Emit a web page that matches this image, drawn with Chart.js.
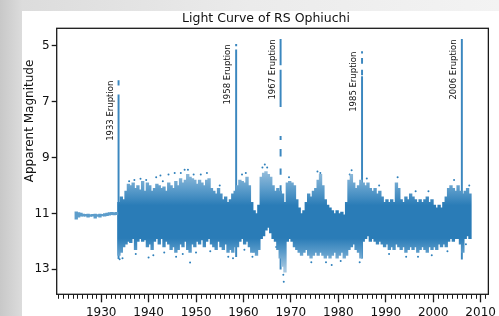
<!DOCTYPE html>
<html>
<head>
<meta charset="utf-8">
<script src="https://cdn.jsdelivr.net/npm/chart.js@4.4.1/dist/chart.umd.min.js"></script>
<style>
  html, body { margin: 0; padding: 0; }
  body {
    width: 499px; height: 316px; overflow: hidden; position: relative;
    background: linear-gradient(90deg, #c8c8c8 0px, #dcdcdc 22px, #ebebeb 250px, #f3f3f3 499px);
  }
  #sheet { position: absolute; left: 22px; top: 11px; width: 477px; height: 305px; background: #fff; }
  #lc { display: block; }
</style>
</head>
<body>
<div id="sheet"><canvas id="lc" width="477" height="305"></canvas></div>
<script>
// ------------------------------------------------------------
// Light curve of RS Ophiuchi
// ------------------------------------------------------------

const xTicks = [1930, 1940, 1950, 1960, 1970, 1980, 1990, 2000, 2010];
const yTicks = [5, 7, 9, 11, 13];

// quiet stretch before the 1933 outburst (half-year bins)
const quietYears  = [1924.75, 1925.25, 1925.75, 1926.25, 1926.75, 1927.25, 1927.75, 1928.25, 1928.75,
                     1929.25, 1929.75, 1930.25, 1930.75, 1931.25, 1931.75, 1932.25, 1932.75, 1933.25];
const quietBright = [10.94, 10.97, 10.99, 11.02, 11.03, 11.02, 11.04, 11.03, 11.02,
                     11.04, 11.02, 11.03, 11.0, 10.99, 10.97, 10.96, 10.97, 10.96];
const quietFaint  = [11.2, 11.13, 11.1, 11.1, 11.1, 11.13, 11.11, 11.1, 11.17,
                     11.11, 11.13, 11.09, 11.1, 11.08, 11.06, 11.04, 11.05, 11.04];

// spread of the observations after 1933 (half-year bins)
const bandYears = [
  1933.75, 1934.25, 1934.75, 1935.25, 1935.75, 1936.25, 1936.75, 1937.25, 1937.75, 1938.25,
  1938.75, 1939.25, 1939.75, 1940.25, 1940.75, 1941.25, 1941.75, 1942.25, 1942.75, 1943.25,
  1943.75, 1944.25, 1944.75, 1945.25, 1945.75, 1946.25, 1946.75, 1947.25, 1947.75, 1948.25,
  1948.75, 1949.25, 1949.75, 1950.25, 1950.75, 1951.25, 1951.75, 1952.25, 1952.75, 1953.25,
  1953.75, 1954.25, 1954.75, 1955.25, 1955.75, 1956.25, 1956.75, 1957.25, 1957.75, 1958.25,
  1958.75, 1959.25, 1959.75, 1960.25, 1960.75, 1961.25, 1961.75, 1962.25, 1962.75, 1963.25,
  1963.75, 1964.25, 1964.75, 1965.25, 1965.75, 1966.25, 1966.75, 1967.25, 1967.75, 1968.25,
  1968.75, 1969.25, 1969.75, 1970.25, 1970.75, 1971.25, 1971.75, 1972.25, 1972.75, 1973.25,
  1973.75, 1974.25, 1974.75, 1975.25, 1975.75, 1976.25, 1976.75, 1977.25, 1977.75, 1978.25,
  1978.75, 1979.25, 1979.75, 1980.25, 1980.75, 1981.25, 1981.75, 1982.25, 1982.75, 1983.25,
  1983.75, 1984.25, 1984.75, 1985.25, 1985.75, 1986.25, 1986.75, 1987.25, 1987.75, 1988.25,
  1988.75, 1989.25, 1989.75, 1990.25, 1990.75, 1991.25, 1991.75, 1992.25, 1992.75, 1993.25,
  1993.75, 1994.25, 1994.75, 1995.25, 1995.75, 1996.25, 1996.75, 1997.25, 1997.75, 1998.25,
  1998.75, 1999.25, 1999.75, 2000.25, 2000.75, 2001.25, 2001.75, 2002.25, 2002.75, 2003.25,
  2003.75, 2004.25, 2004.75, 2005.25, 2005.75, 2006.25, 2006.75, 2007.25, 2007.75
];
const bandBright = [
  10.6, 10.4, 10.5, 10.2, 9.95, 10.0, 9.9, 10.1, 10.0, 10.15,
  9.85, 10.2, 9.9, 10.0, 10.2, 10.1, 9.95, 10.0, 10.1, 10.05,
  10.2, 9.9, 10.0, 10.1, 9.85, 10.0, 9.75, 9.9, 9.8, 9.6,
  9.7, 9.75, 9.8, 9.95, 9.8, 9.9, 10.0, 9.8, 9.75, 10.1,
  10.2, 10.3, 10.1, 10.3, 10.5, 10.4, 10.6, 10.5, 10.3, 10.2,
  10.0, 9.8, 9.85, 9.9, 9.7, 10.0, 10.6, 10.9, 11.0, 10.7,
  9.7, 9.55, 9.5, 9.6, 9.7, 10.0, 10.2, 10.1, 10.2, 10.3,
  10.6, 9.9, 9.85, 9.9, 10.0, 10.5, 10.8, 11.0, 10.9, 10.6,
  10.3, 10.4, 10.2, 10.1, 9.8, 9.6, 10.0, 10.5, 10.7, 10.8,
  10.9, 11.0, 10.9, 11.0, 10.95, 11.05, 10.6, 9.8, 9.6, 9.9,
  10.1, 10.0, 9.8, 9.9, 10.0, 9.9, 10.1, 10.2, 10.1, 10.3,
  10.2, 10.4, 10.6, 10.5, 10.6, 10.5, 10.6, 9.9, 10.1, 10.5,
  10.6, 10.4, 10.5, 10.3, 10.4, 10.5, 10.6, 10.5, 10.6, 10.5,
  10.4, 10.6, 10.5, 10.7, 10.8, 10.7, 10.8, 10.6, 10.4, 10.1,
  10.0, 10.1, 10.2, 10.0, 10.2, 10.3, 10.2, 10.1, 10.3
];
const bandFaint = [
  12.5, 12.4, 12.2, 12.1, 12.0, 12.05, 11.9, 12.3, 12.0, 11.9,
  12.0, 11.95, 12.2, 12.1, 12.3, 12.0, 11.9, 12.1, 11.9, 12.2,
  12.0, 12.1, 12.3, 12.2, 12.4, 12.3, 12.1, 12.2, 12.0, 12.3,
  12.4, 12.1, 12.2, 12.0, 12.1, 11.95, 12.2, 12.0, 11.9, 12.1,
  12.2, 12.3, 12.0, 12.2, 12.3, 12.1, 12.4, 12.3, 12.4, 12.2,
  12.2, 12.0, 11.9, 12.1, 12.0, 12.2, 12.4, 12.4, 12.5, 12.3,
  11.9, 11.8, 11.6, 11.5, 11.7, 11.9, 12.0, 12.3, 12.6, 12.9,
  13.1, 12.0, 11.9, 12.0, 12.2, 12.3, 12.4, 12.5, 12.4, 12.3,
  12.5, 12.6, 12.5, 12.4, 12.5, 12.4, 12.5, 12.6, 12.5, 12.6,
  12.5, 12.4, 12.6, 12.5, 12.4, 12.6, 12.5, 12.3, 12.2, 12.1,
  12.3, 12.4, 12.6, 12.0, 11.9, 11.8, 12.0, 11.9, 12.0, 12.1,
  12.0, 12.1, 12.2, 12.1, 12.3, 12.2, 12.3, 12.1, 12.2, 12.3,
  12.2, 12.4, 12.3, 12.2, 12.3, 12.2, 12.4, 12.3, 12.2, 12.3,
  12.4, 12.2, 12.3, 12.2, 12.3, 12.1, 12.2, 12.1, 12.2, 12.0,
  11.9, 12.0, 11.9, 11.9, 12.1, 12.4, 11.9, 11.8, 11.9
];

// outbursts: near-vertical runs of points (gaps where the run breaks)
const burstYears  = [1933.67, 1933.67, 1958.46, 1958.46, 1967.83, 1967.83, 1967.83, 1967.83, 1967.83, 1967.83,
                     1985.0, 1985.0, 1985.0, 1985.0, 2006.04];
const burstTop    = [6.24, 6.75, 4.94, 5.14, 4.76, 5.86, 8.24, 8.7, 9.4, 10.0,
                     5.2, 5.44, 5.86, 6.1, 4.76];
const burstBottom = [6.4, 12.62, 5.0, 12.55, 5.68, 7.17, 8.36, 8.95, 9.6, 13.0,
                     5.26, 5.62, 6.04, 12.6, 12.64];

// isolated points sticking out of the main spread
const strayYears = [
  1933.9, 1938.3, 1940.0, 1942.5, 1944.2, 1945.5, 1947.6, 1948.3, 1948.75,
  1960.5, 1961.9, 1964.5, 1965.0, 1968.4, 1968.5, 1976.2, 1978.6, 1982.4,
  1935.9, 1937.0, 1939.5, 1941.6, 1943.0, 1946.8, 1949.5, 1951.0, 1952.3, 1955.0, 1959.7,
  1964.0, 1969.6, 1975.6, 1982.8, 1986.0, 1988.6, 1992.5, 1996.3, 1999.0, 2004.4, 2007.6,
  1934.5, 1937.3, 1941.0, 1943.3, 1945.8, 1947.2, 1950.0, 1953.0, 1956.8, 1957.8, 1960.2,
  1966.9, 1974.3, 1977.4, 1980.5, 1984.5, 1990.7, 1994.3, 1996.8, 1999.7, 2003.0, 2006.9
];
const strayMags = [
  12.64, 9.76, 12.58, 9.64, 9.6, 9.55, 9.43, 9.43, 12.76,
  9.55, 12.55, 9.25, 9.35, 13.2, 13.45, 9.55, 12.85, 9.6,
  9.85, 9.8, 9.8, 9.7, 9.85, 9.55, 9.6, 9.6, 9.55, 10.0, 9.6,
  9.35, 9.7, 9.5, 9.45, 9.75, 10.0, 9.7, 10.2, 10.2, 9.8, 10.0,
  12.6, 12.45, 12.5, 12.4, 12.55, 12.45, 12.4, 12.35, 12.55, 12.6, 12.3,
  12.2, 12.75, 12.75, 12.7, 12.75, 12.45, 12.55, 12.55, 12.5, 12.35, 12.1
];

const eruptionNames = ['1933 Eruption', '1958 Eruption', '1967 Eruption', '1985 Eruption', '2006 Eruption'];
const eruptionYears = [1933.67, 1958.46, 1967.83, 1985.0, 2006.04];
const eruptionPeaks = [6.24, 4.94, 4.76, 5.2, 4.76];

const DOT = '#2f80bb';
const INK = '#1a1a1a';
const FONT = "'DejaVu Sans', 'Liberation Sans', sans-serif";

Chart.defaults.font.family = FONT;

const toBars = (xs, lo, hi) => xs.map((x, i) => ({ x: x, y: [lo[i], hi[i]] }));

// the spread is dense in the middle and thins out towards its edges
let bandGradient = null;
function bandFill(context) {
  const chart = context.chart;
  if (!chart.chartArea) return DOT;
  if (bandGradient) return bandGradient;
  const y = chart.scales.y;
  const g = chart.ctx.createLinearGradient(0, y.getPixelForValue(9.3), 0, y.getPixelForValue(13.0));
  g.addColorStop(0.00, '#a6c7e0');
  g.addColorStop(0.22, '#5d9dcb');
  g.addColorStop(0.38, '#2a7cb7');
  g.addColorStop(0.70, '#2a7cb7');
  g.addColorStop(0.84, '#5d9dcb');
  g.addColorStop(1.00, '#a6c7e0');
  bandGradient = g;
  return g;
}

// frame, minor ticks, title, axis label and the outburst captions
const decor = {
  id: 'decor',
  afterDraw(chart) {
    const { ctx, chartArea: a, scales: { x, y } } = chart;
    ctx.save();

    ctx.strokeStyle = INK;
    ctx.lineWidth = 1.3;
    ctx.strokeRect(a.left, a.top, a.right - a.left, a.bottom - a.top);

    ctx.lineWidth = 1;
    ctx.beginPath();
    for (let yr = Math.ceil(x.min); yr <= x.max; yr++) {
      if (yr % 10 === 0) continue;
      const px = Math.round(x.getPixelForValue(yr)) + 0.5;
      ctx.moveTo(px, a.bottom);
      ctx.lineTo(px, a.bottom + 4.5);
    }
    ctx.stroke();

    ctx.fillStyle = '#111';
    ctx.textBaseline = 'middle';
    ctx.textAlign = 'center';
    ctx.font = '12.5px ' + FONT;
    ctx.fillText('Light Curve of RS Ophiuchi', 244, 8);

    ctx.save();
    ctx.translate(8, 110);
    ctx.rotate(-Math.PI / 2);
    ctx.font = '12px ' + FONT;
    ctx.fillText('Apparent Magnitude', 0, 0);
    ctx.restore();

    ctx.font = '8.5px ' + FONT;
    ctx.textAlign = 'right';
    eruptionNames.forEach((name, i) => {
      ctx.save();
      ctx.translate(x.getPixelForValue(eruptionYears[i] - 1.7), y.getPixelForValue(eruptionPeaks[i]));
      ctx.rotate(-Math.PI / 2);
      ctx.fillText(name, 0, 0);
      ctx.restore();
    });

    ctx.restore();
  }
};

new Chart(document.getElementById('lc'), {
  type: 'bar',
  data: {
    datasets: [
      {
        data: toBars(quietYears, quietBright, quietFaint),
        backgroundColor: '#5d9dcb',
        borderWidth: 0,
        barThickness: 2.7,
        grouped: false,
      },
      {
        data: toBars(bandYears, bandBright, bandFaint),
        backgroundColor: bandFill,
        borderWidth: 0,
        barThickness: 2.7,
        grouped: false,
      },
      {
        data: toBars(burstYears, burstTop, burstBottom),
        backgroundColor: '#3b87bf',
        borderWidth: 0,
        barThickness: 1.3,
        grouped: false,
      },
      {
        type: 'scatter',
        data: strayYears.map((v, i) => ({ x: v, y: strayMags[i] })),
        backgroundColor: DOT,
        borderWidth: 0,
        pointRadius: 1.0,
      }
    ]
  },
  options: {
    responsive: false,
    animation: false,
    layout: { padding: { top: 17.3, right: 5.5, left: 0, bottom: 0 } },
    plugins: {
      legend: { display: false },
      tooltip: { enabled: false },
      title: { display: false }
    },
    scales: {
      x: {
        type: 'linear',
        min: 1920.63,
        max: 2011.63,
        offset: false,
        afterBuildTicks: s => { s.ticks = xTicks.map(v => ({ value: v })); },
        afterFit: s => { s.height = 21.7; },
        grid: { offset: false, drawOnChartArea: false, drawTicks: true, tickLength: 8, tickColor: INK, tickWidth: 1.3 },
        border: { display: false },
        ticks: {
          color: '#111',
          padding: 3,
          maxRotation: 0,
          font: { size: 12 },
          callback: v => String(v)
        }
      },
      y: {
        type: 'linear',
        reverse: true,
        min: 4.366,
        max: 13.896,
        afterBuildTicks: s => { s.ticks = yTicks.map(v => ({ value: v })); },
        afterFit: s => { s.width = 34.7; },
        grid: { drawOnChartArea: false, drawTicks: true, tickLength: 5, tickColor: INK, tickWidth: 1.3 },
        border: { display: false },
        ticks: {
          color: '#111',
          padding: 2,
          font: { size: 12 },
          callback: v => String(v)
        }
      }
    }
  },
  plugins: [decor]
});
</script>
</body>
</html>
